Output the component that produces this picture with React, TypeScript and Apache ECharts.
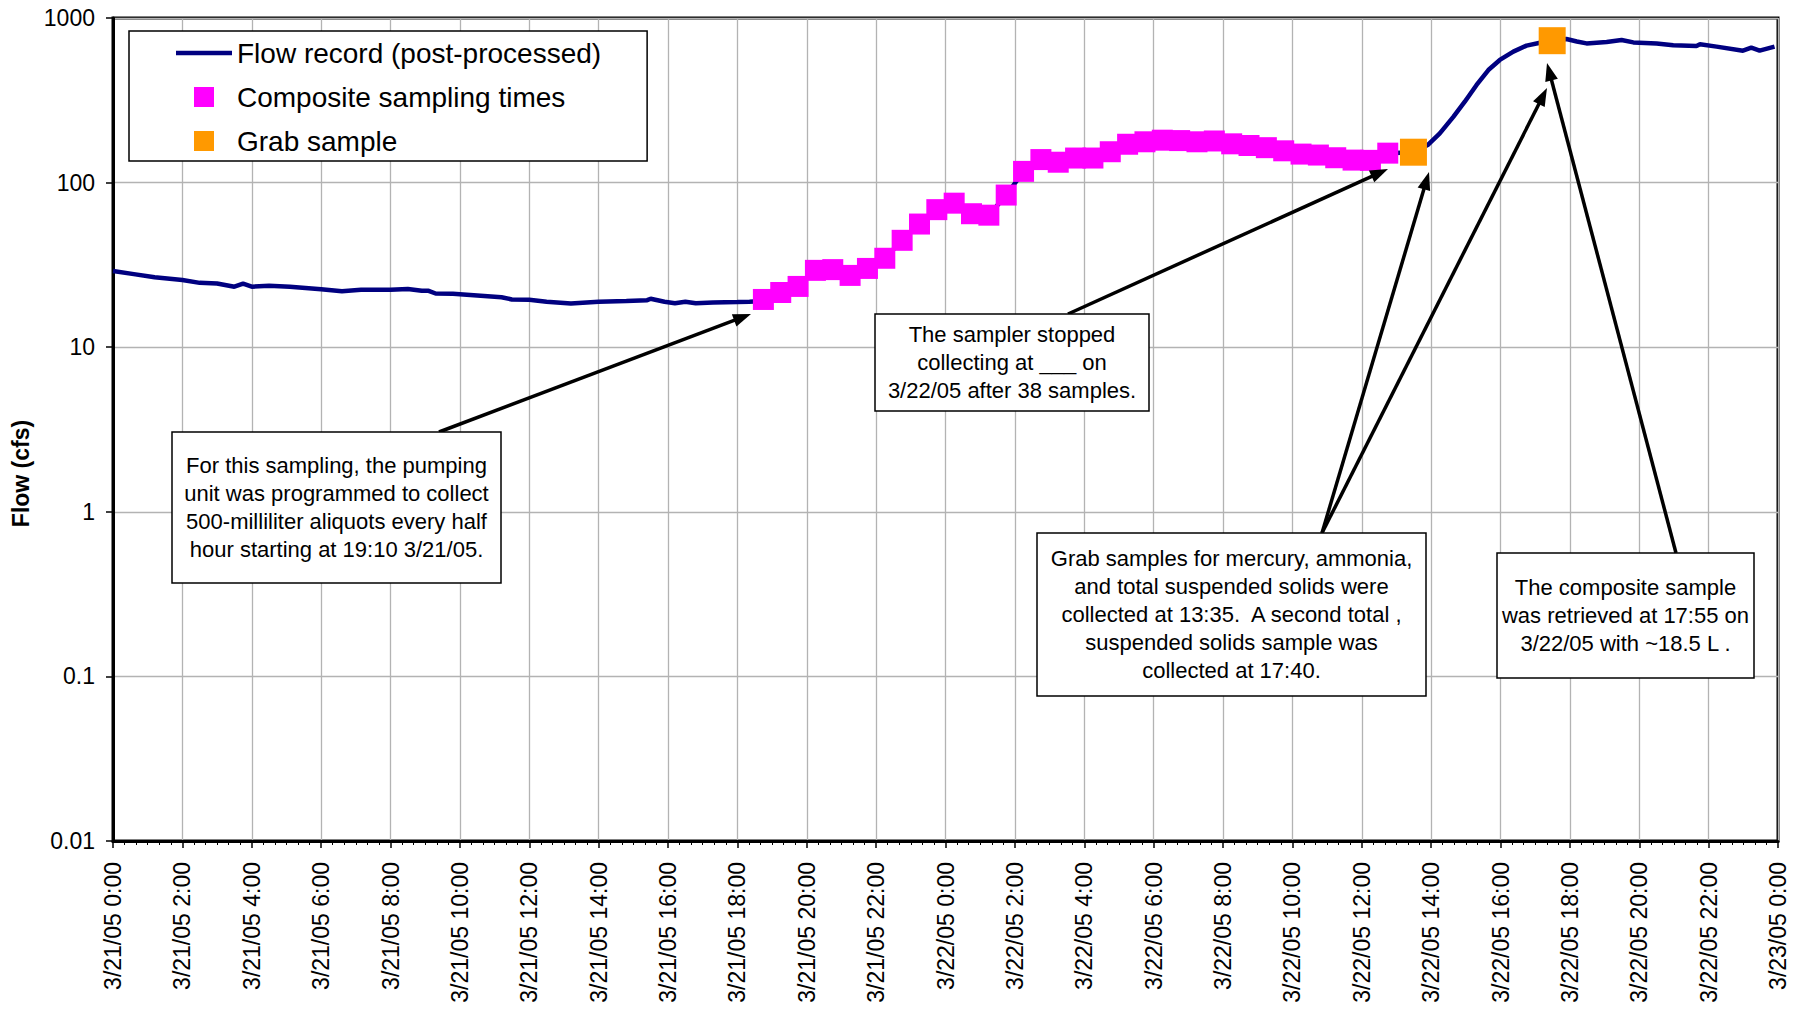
import React, { useEffect, useRef } from 'react';
import * as echarts from 'echarts';

// Hours after 3/21/05 0:00
const flowBeforeHours = [0, 0.6, 1.2, 2, 2.5, 3, 3.5, 3.75, 4, 4.5, 5.1, 6, 6.6, 7.15, 8, 8.5, 8.9, 9.1, 9.3, 9.8, 10.5, 11.2, 11.5, 12, 12.5, 13.2, 14, 14.8, 15.4, 15.5, 15.9, 16.2, 16.5, 16.8, 17.3, 18, 18.35, 18.6];
const flowBeforeValues = [29, 27.8, 26.6, 25.6, 24.6, 24.4, 23.3, 24.3, 23.3, 23.6, 23.3, 22.5, 21.9, 22.3, 22.3, 22.6, 22.0, 22.0, 21.2, 21.1, 20.6, 20.1, 19.5, 19.4, 18.9, 18.4, 18.9, 19.1, 19.3, 19.7, 18.9, 18.5, 18.9, 18.5, 18.7, 18.8, 18.9, 19.0];

const sampleHours = [18.75, 19.25, 19.75, 20.25, 20.75, 21.25, 21.75, 22.25, 22.75, 23.25, 23.75, 24.25, 24.75, 25.25, 25.75, 26.25, 26.75, 27.25, 27.75, 28.25, 28.75, 29.25, 29.75, 30.25, 30.75, 31.25, 31.75, 32.25, 32.75, 33.25, 33.75, 34.25, 34.75, 35.25, 35.75, 36.25, 36.75];
const sampleValues = [19.5, 21.5, 23.4, 29.3, 29.6, 27.3, 30.1, 34.7, 44.6, 56.0, 68.5, 75, 64.7, 63.4, 84, 117, 138, 133, 141, 141, 154, 171, 177, 181, 180, 177, 179, 172, 168, 163, 156, 149, 147, 141.6, 137, 136.5, 151];

const flowAfterHours = [37.5, 37.9, 38.25, 38.64, 38.97, 39.31, 39.65, 39.98, 40.37, 40.75, 41.14, 41.5, 41.9, 42.2, 42.48, 43.06, 43.49, 43.83, 44.5, 44.98, 45.65, 45.75, 46.23, 46.99, 47.23, 47.47, 47.9];
const flowAfterValues = [153, 169, 199, 251, 310, 392, 483, 556, 625, 679, 708, 728, 745, 720, 701, 715, 735, 711, 701, 682, 676, 692, 670, 633, 660, 633, 670];

const grabHours = [37.49, 41.49];
const grabValues = [153, 728];

const yTicks = [0.01, 0.1, 1, 10, 100, 1000];

const FONT = '"Liberation Sans", Arial, sans-serif';

const notes = [
  { x: 172, y: 432, w: 329, h: 151, lines: ['For this sampling, the pumping', 'unit was programmed to collect', '500-milliliter aliquots every half', 'hour starting at 19:10 3/21/05.'] },
  { x: 875, y: 314, w: 274, h: 97, lines: ['The sampler stopped', 'collecting at ___ on', '3/22/05 after 38 samples.'] },
  { x: 1037, y: 533, w: 389, h: 163, lines: ['Grab samples for mercury, ammonia,', 'and total suspended solids were', 'collected at 13:35.  A second total ,', 'suspended solids sample was', 'collected at 17:40.'] },
  { x: 1497, y: 553, w: 257, h: 125, lines: ['The composite sample', 'was retrieved at 17:55 on', '3/22/05 with ~18.5 L .'] },
];

const arrows = [
  [439, 432, 751, 314],
  [1068, 314, 1388, 169],
  [1322, 533, 1429, 172],
  [1322, 533, 1547, 88],
  [1676, 553, 1547, 63],
];

function arrowEls(a: number[]) {
  const [x1, y1, x2, y2] = a;
  const dx = x2 - x1, dy = y2 - y1;
  const L = Math.hypot(dx, dy);
  const ux = dx / L, uy = dy / L;
  const hl = 18, hw = 6.5;
  const bx = x2 - ux * hl, by = y2 - uy * hl;
  return [
    { type: 'line', shape: { x1, y1, x2: bx + ux * 2, y2: by + uy * 2 }, style: { stroke: '#000', lineWidth: 3.5 }, z: 100 },
    { type: 'polygon', shape: { points: [[x2, y2], [bx - uy * hw, by + ux * hw], [bx + uy * hw, by - ux * hw]] }, style: { fill: '#000' }, z: 100 },
  ];
}

function fmtX(v: number) {
  const day = 21 + Math.floor(v / 24);
  const h = Math.round(v % 24);
  return `3/${day}/05 ${h}:00`;
}

function fmtY(v: number) {
  if (v < 1) return v.toFixed(Math.round(-Math.log10(v)));
  return String(Math.round(v));
}

export default function App() {
  const ref = useRef<HTMLDivElement>(null);
  useEffect(() => {
    const chart = echarts.init(ref.current!, null, { renderer: 'svg' });
    const flowData = [
      ...flowBeforeHours.map((h, i) => [h, flowBeforeValues[i]]),
      ...sampleHours.map((h, i) => [h, sampleValues[i]]),
      ...flowAfterHours.map((h, i) => [h, flowAfterValues[i]]),
    ];
    const graphic: any[] = [];
    arrows.forEach((a) => graphic.push(...arrowEls(a)));
    notes.forEach((n) => {
      graphic.push({
        type: 'rect',
        shape: { x: n.x, y: n.y, width: n.w, height: n.h },
        style: { fill: '#fff', stroke: '#000', lineWidth: 1.5 },
        z: 110,
      });
      graphic.push({
        type: 'text',
        x: n.x + n.w / 2,
        y: n.y + n.h / 2,
        style: {
          text: n.lines.join('\n'),
          font: `22px ${FONT}`,
          fill: '#000',
          align: 'center',
          verticalAlign: 'middle',
          lineHeight: 28,
        },
        z: 111,
      });
    });

    chart.setOption({
      animation: false,
      backgroundColor: '#fff',
      textStyle: { fontFamily: FONT },
      grid: { left: 113, top: 18, width: 1665, height: 823, show: true, borderColor: '#000', borderWidth: 3, backgroundColor: 'transparent' },
      legend: {
        orient: 'vertical',
        left: 129,
        top: 31,
        padding: [7, 46, 5, 47],
        itemGap: 14,
        itemWidth: 56,
        itemHeight: 20,
        backgroundColor: '#fff',
        borderColor: '#000',
        borderWidth: 1.5,
        textStyle: { fontSize: 28, color: '#000', fontFamily: FONT, lineHeight: 30 },
        data: [
          { name: 'Flow record (post-processed)', icon: 'path://M0 0H56V4.5H0Z' },
          { name: 'Composite sampling times', icon: 'path://M0 0H10V10H0Z' },
          { name: 'Grab sample', icon: 'path://M0 0H10V10H0Z' },
        ],
      },
      xAxis: {
        type: 'value',
        min: 0,
        max: 48,
        interval: 2,
        axisLine: { lineStyle: { color: '#000', width: 3 } },
        axisTick: { length: 7, lineStyle: { color: '#000', width: 1.5 } },
        minorTick: { show: true, splitNumber: 6, length: 4, lineStyle: { color: '#000', width: 1 } },
        splitLine: { show: true, lineStyle: { color: '#b3b3b3', width: 1.3 } },
        axisLabel: { rotate: 90, margin: 21, fontSize: 23, color: '#000', fontFamily: FONT, formatter: fmtX, showMinLabel: true, showMaxLabel: true },
      },
      yAxis: {
        type: 'log',
        logBase: 10,
        min: yTicks[0],
        max: yTicks[yTicks.length - 1],
        name: 'Flow (cfs)',
        nameLocation: 'middle',
        nameRotate: 90,
        nameGap: 78,
        nameTextStyle: { fontSize: 23, fontWeight: 'bold', color: '#000', fontFamily: FONT, padding: [0, 88, 0, 0] },
        axisLine: { show: true, lineStyle: { color: '#000', width: 3 } },
        axisTick: { show: true, length: 7, lineStyle: { color: '#000', width: 1.5 } },
        splitLine: { show: true, lineStyle: { color: '#b3b3b3', width: 1.3 } },
        axisLabel: { margin: 18, fontSize: 23, color: '#000', fontFamily: FONT, formatter: fmtY },
      },
      series: [
        {
          name: 'Flow record (post-processed)',
          type: 'line',
          data: flowData,
          symbol: 'none',
          lineStyle: { color: '#000080', width: 4.5 },
          itemStyle: { color: '#000080' },
          z: 2,
        },
        {
          name: 'Composite sampling times',
          type: 'scatter',
          data: sampleHours.map((h, i) => [h, sampleValues[i]]),
          symbol: 'rect',
          symbolSize: 21,
          itemStyle: { color: '#ff00ff', opacity: 1 },
          z: 3,
        },
        {
          name: 'Grab sample',
          type: 'scatter',
          data: grabHours.map((h, i) => [h, grabValues[i]]),
          symbol: 'rect',
          symbolSize: 27,
          itemStyle: { color: '#ff9900', opacity: 1 },
          z: 4,
        },
      ],
      graphic,
    });
    return () => chart.dispose();
  }, []);
  return <div ref={ref} style={{ position: 'fixed', left: 0, top: 0, width: 1797, height: 1011, background: '#fff' }} />;
}
